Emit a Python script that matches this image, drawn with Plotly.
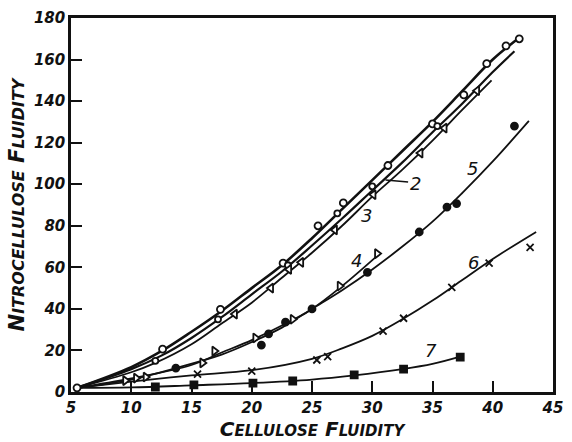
import plotly.graph_objects as go

# Fitted curves (cellulose fluidity -> nitrocellulose fluidity)
c1_x = [5.5, 10, 12.6, 15, 17.5, 20, 22.5, 25, 27.5, 30, 32.5, 35, 37.5, 40, 42.3]
c1_y = [2, 12, 20, 29, 39, 50, 61, 74, 88, 102, 116, 130, 145, 160, 171]
c2_x = [5.5, 10, 12.5, 15, 17.5, 20, 22.5, 25, 27.5, 30, 32.5, 35, 37.5, 40, 41.8]
c2_y = [2, 11, 17.5, 26, 36, 47, 58, 70.5, 83.5, 97, 110.5, 125, 139, 154, 164]
c3_x = [5.5, 10, 12, 15, 17.5, 20, 22.5, 25, 27.5, 30, 32.5, 35, 37.5, 39.9]
c3_y = [2, 9.5, 14, 23, 33, 43, 55, 67, 80, 94, 107, 121, 136, 150]
c4_x = [5.5, 10, 15, 17.5, 20, 22.5, 25, 27.5, 30.5]
c4_y = [2, 6.5, 13, 19, 25, 32, 40, 51, 66]
c5_x = [5.5, 10, 14, 17.5, 20, 22.5, 25, 27.5, 30, 32.5, 35, 37.5, 40, 43]
c5_y = [2, 6, 12, 18, 24, 31, 40, 49, 59, 70, 82, 96, 111, 130.5]
c6_x = [5.5, 10, 15, 20, 25, 27.5, 30, 32.5, 35, 37.5, 40, 43.6]
c6_y = [2, 5, 8, 10.5, 16, 21, 27, 35, 44, 54, 64, 77]
c7_x = [5.5, 10, 15, 20, 25, 28.5, 32.5, 35, 37.3]
c7_y = [2, 2.2, 3.2, 4.3, 6, 8, 11, 13.5, 17]

# Observations
p1_x = [5.5, 12.6, 17.4, 22.6, 25.5, 27.6, 31.3, 35.0, 37.6, 39.5, 41.1, 42.2]
p1_y = [2, 20.6, 39.8, 62, 80, 91, 109, 129, 143, 158, 166.6, 170]
p2_x = [12.0, 17.2, 23.0, 27.1, 30.0, 35.4]
p2_y = [15, 35, 61, 86, 99, 128]
p3_x = [18.6, 21.6, 23.1, 24.1, 26.9, 30.1, 34.0, 36.0, 38.7]
p3_y = [37.5, 50, 59, 62.4, 78, 95, 115, 127, 145]
p4_x = [9.5, 10.4, 11.2, 15.9, 16.9, 20.3, 23.4, 27.3, 30.4]
p4_y = [5.5, 6.7, 7.2, 14, 19.7, 26, 35, 51, 66.6]
p5_x = [13.7, 20.8, 21.4, 22.8, 25.0, 29.6, 33.9, 36.2, 37.0, 41.8]
p5_y = [11.5, 22.6, 28, 33.6, 40, 57.6, 77, 89, 90.7, 128]
p6_x = [15.5, 20.0, 25.4, 26.3, 30.9, 32.6, 36.6, 39.7, 43.1]
p6_y = [8.6, 10, 15.4, 17, 29.3, 35.5, 50.4, 62, 69.6]
p7_x = [12.0, 15.2, 20.1, 23.4, 28.5, 32.6, 37.3]
p7_y = [2.4, 3.4, 4.3, 5.3, 8.2, 11, 16.8]

# Curve labels
lab_text = ["3", "4", "5", "6", "7"]
lab_x = [29.5, 28.7, 38.3, 38.4, 34.9]
lab_y = [85, 63.4, 107.5, 62.4, 20]

x_ticks = [5, 10, 15, 20, 25, 30, 35, 40, 45]
y_ticks = [0, 20, 40, 60, 80, 100, 120, 140, 160, 180]

FONT = "DejaVu Sans"
INK = "#111111"

fig = go.Figure()

curves = [(c1_x, c1_y, 2.6), (c2_x, c2_y, 2.2), (c3_x, c3_y, 1.8), (c4_x, c4_y, 1.8),
          (c5_x, c5_y, 1.8), (c6_x, c6_y, 1.8), (c7_x, c7_y, 1.8)]
for cx, cy, w in curves:
    fig.add_trace(go.Scatter(x=cx, y=cy, mode="lines",
                             line=dict(color=INK, width=w, shape="spline", smoothing=1.0),
                             hoverinfo="skip"))

# (x, y, symbol, size, fill) -- hollow markers get a white fill over the curve
points = [
    (p1_x, p1_y, "circle", 7, "white"),
    (p2_x, p2_y, "circle", 6, "white"),
    (p3_x, p3_y, "triangle-left", 8, "white"),
    (p4_x, p4_y, "triangle-right", 8, "white"),
    (p5_x, p5_y, "circle", 7, INK),
    (p6_x, p6_y, "x-thin-open", 7, INK),
    (p7_x, p7_y, "square", 7, INK),
]
for px, py, sym, sz, fill in points:
    fig.add_trace(go.Scatter(x=px, y=py, mode="markers",
                             marker=dict(symbol=sym, size=sz, color=fill,
                                         line=dict(color=INK, width=1.8)),
                             hoverinfo="skip"))

for t, lx, ly in zip(lab_text, lab_x, lab_y):
    fig.add_annotation(x=lx, y=ly, text=f"<i>{t}</i>", showarrow=False,
                       font=dict(family=FONT, size=18, color=INK))

# Label 2 with a short pointer to its curve
fig.add_annotation(x=31.1, y=102, ax=33.1, ay=101, xref="x", yref="y", axref="x", ayref="y",
                   text="", showarrow=True, arrowhead=0, arrowwidth=1.6, arrowcolor=INK)
fig.add_annotation(x=33.6, y=100.5, text="<i>2</i>", showarrow=False,
                   font=dict(family=FONT, size=18, color=INK))

tick_font = dict(family=FONT, size=15, color=INK)
x_small = "font-size:15px"
y_small = "font-size:16px"
x_title = (f"<b><i>C<span style='{x_small}'>ELLULOSE</span> "
           f"F<span style='{x_small}'>LUIDITY</span></i></b>")
y_title = (f"<b><i>N<span style='{y_small}'>ITROCELLULOSE</span> "
           f"F<span style='{y_small}'>LUIDITY</span></i></b>")

fig.update_xaxes(range=[5, 45], tickvals=x_ticks,
                 ticktext=[f"<b><i>{v}</i></b>" for v in x_ticks],
                 ticks="inside", ticklen=11, tickwidth=1.6, tickcolor=INK,
                 showline=True, linecolor=INK, linewidth=2.5, mirror=True,
                 showgrid=False, zeroline=False, tickfont=tick_font,
                 title=dict(text=x_title, font=dict(family=FONT, size=20, color=INK), standoff=0))
fig.update_yaxes(range=[0, 180], tickvals=y_ticks,
                 ticktext=[f"<b><i>{v}</i></b>" for v in y_ticks],
                 ticks="inside", ticklen=11, tickwidth=1.6, tickcolor=INK,
                 showline=True, linecolor=INK, linewidth=2.5, mirror=True,
                 showgrid=False, zeroline=False, tickfont=tick_font,
                 title=dict(text=y_title, font=dict(family=FONT, size=21, color=INK), standoff=4))

fig.update_layout(width=572, height=442, showlegend=False,
                  margin=dict(l=71, r=9, t=17, b=50),
                  paper_bgcolor="white", plot_bgcolor="white")

fig.write_html("out.html")
